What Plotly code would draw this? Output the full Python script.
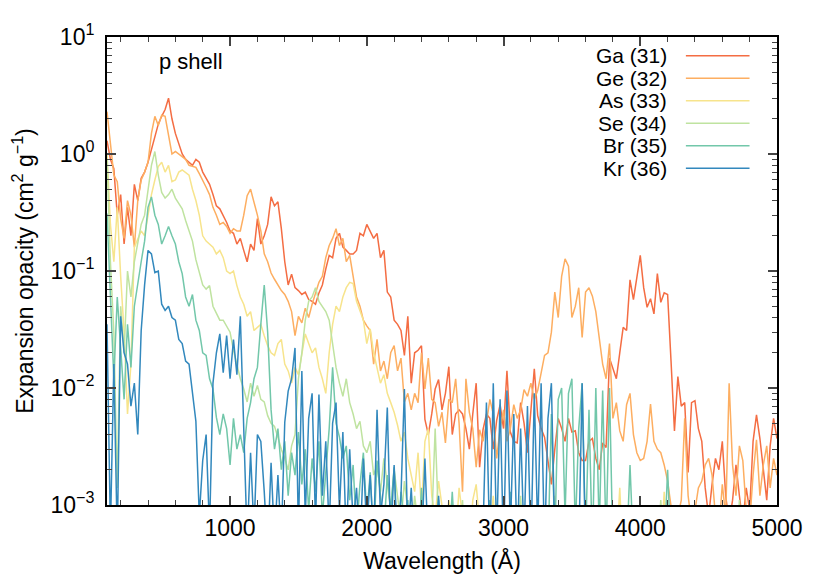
import plotly.graph_objects as go

# wavelength grid (Angstrom)
wavelength = list(range(100, 5001, 25))

# expansion opacity (cm^2 g^-1); values < 1e-3 fall below the axis
ga = [
    1.3, 0.9, 0.75, 0.3, 0.45, 0.17, 0.35, 0.2, 0.55, 0.4,  # 100
    0.62, 0.7, 0.85, 1.1, 1.4, 1.8, 2.1, 2.4, 3.0, 2.0,  # 350
    1.5, 1.25, 1.0, 0.9, 0.85, 0.8, 0.9, 0.85, 0.7, 0.62,  # 600
    0.55, 0.45, 0.36, 0.34, 0.3, 0.26, 0.22, 0.21, 0.17, 0.19,  # 850
    0.15, 0.12, 0.17, 0.15, 0.28, 0.17, 0.2, 0.25, 0.43, 0.36,  # 1100
    0.39, 0.23, 0.12, 0.076, 0.094, 0.072, 0.068, 0.063, 0.066, 0.057,  # 1350
    0.055, 0.052, 0.065, 0.076, 0.104, 0.136, 0.13, 0.19, 0.21, 0.16,  # 1600
    0.15, 0.14, 0.14, 0.15, 0.21, 0.2, 0.25, 0.22, 0.19, 0.21,  # 1850
    0.13, 0.15, 0.066, 0.06, 0.038, 0.035, 0.031, 0.019, 0.041, 0.011,  # 2100
    0.02, 0.021, 0.023, 0.0054, 0.004, 0.006, 0.0098, 0.0118, 0.0065, 0.009,  # 2350
    0.0152, 0.004, 0.006, 0.0065, 0.006, 0.0045, 0.003, 0.006, 0.011, 0.0021,  # 2600
    0.0044, 0.006, 0.0055, 0.003, 0.0053, 0.0072, 0.0045, 0.014, 0.0042, 0.0035,  # 2850
    0.0034, 0.0075, 0.005, 0.0028, 0.0065, 0.0146, 0.0058, 0.0045, 0.0038, 0.0025,  # 3100
    0.0015, 0.003, 0.0055, 0.0045, 0.0035, 0.0055, 0.0042, 0.0043, 0.0028, 0.0024,  # 3350
    0.0024, 0.0035, 0.0037, 0.0025, 0.002, 0.0034, 0.0031, 0.018, 0.0145, 0.012,  # 3600
    0.02, 0.033, 0.031, 0.084, 0.057, 0.087, 0.136, 0.072, 0.049, 0.058,  # 3850
    0.043, 0.095, 0.054, 0.065, 0.063, 0.017, 0.0043, 0.0125, 0.007, 0.0075,  # 4100
    0.0019, 0.0075, 0.0078, 0.0045, 0.0035, 0.0014, 0.0008, 0.0015, 0.0025, 0.002,  # 4350
    0.0035, 0.0012, 0.0007, 0.0011, 0.0022, 0.0012, 0.0007, 0.0014, 0.0009, 0.0035,  # 4600
    0.0059, 0.0037, 0.002, 0.0011, 0.0032, 0.0055, 0.0037,  # 4850
]
ge = [
    2.3, 1.25, 0.66, 0.58, 0.28, 0.19, 0.4, 0.3, 0.16, 0.4,
    0.6, 0.7, 0.85, 1.5, 2.1, 1.75, 2.15, 2.1, 1.5, 1.0,
    1.05, 1.0, 0.95, 0.9, 0.8, 0.78, 0.77, 0.68, 0.6, 0.52,
    0.45, 0.35, 0.3, 0.25, 0.26, 0.24, 0.21, 0.23, 0.22, 0.22,
    0.3, 0.44, 0.5, 0.39, 0.3, 0.22, 0.14, 0.12, 0.096, 0.085,
    0.075, 0.068, 0.063, 0.055, 0.045, 0.028, 0.041, 0.036, 0.048, 0.04,
    0.052, 0.065, 0.08, 0.09, 0.13, 0.165, 0.19, 0.23, 0.165, 0.19,
    0.12, 0.136, 0.093, 0.06, 0.05, 0.038, 0.034, 0.031, 0.016, 0.026,
    0.014, 0.017, 0.012, 0.02, 0.023, 0.014, 0.018, 0.0076, 0.009, 0.0065,
    0.009, 0.0075, 0.02, 0.0098, 0.018, 0.008, 0.0075, 0.0047, 0.0062, 0.0034,
    0.008, 0.0075, 0.012, 0.005, 0.0013, 0.012, 0.0062, 0.0045, 0.0021, 0.0044,
    0.0035, 0.005, 0.008, 0.006, 0.0025, 0.0045, 0.0065, 0.0035, 0.0045, 0.0072,
    0.0055, 0.0065, 0.0097, 0.0085, 0.011, 0.008, 0.0095, 0.0135, 0.019, 0.02,
    0.03, 0.066, 0.04, 0.09, 0.127, 0.11, 0.04, 0.05, 0.072, 0.027,
    0.066, 0.072, 0.061, 0.045, 0.027, 0.016, 0.012, 0.024, 0.0055, 0.0075,
    0.0043, 0.0035, 0.0072, 0.009, 0.004, 0.0028, 0.0024, 0.0025, 0.0035, 0.0073,
    0.0035, 0.003, 0.0028, 0.0022, 0.0016, 0.0009, 0.0006, 0.0008, 0.0011, 0.0055,
    0.0012, 0.0007, 0.0009, 0.0014, 0.0016, 0.0022, 0.0025, 0.0018, 0.0008, 0.0006,
    0.0015, 0.0008, 0.011, 0.0022, 0.0012, 0.0032, 0.0024, 0.0009, 0.0007, 0.0018,
    0.0036, 0.0012, 0.0022, 0.0032, 0.0014, 0.0025, 0.0018,
]
as_ = [
    1.0, 0.25, 0.12, 0.35, 0.09, 0.03, 0.006, 0.016, 0.16, 0.19,
    0.22, 0.2, 0.3, 0.45, 0.6, 0.78, 0.85, 0.7, 0.8, 0.58,
    0.6, 0.7, 0.73, 0.7, 0.66, 0.5, 0.4, 0.3, 0.2, 0.18,
    0.17, 0.16, 0.14, 0.15, 0.13, 0.1, 0.095, 0.1, 0.075, 0.06,
    0.052, 0.041, 0.045, 0.031, 0.033, 0.035, 0.028, 0.023, 0.02, 0.019,
    0.024, 0.026, 0.016, 0.014, 0.011, 0.015, 0.013, 0.02, 0.029, 0.024,
    0.02, 0.022, 0.015, 0.012, 0.009, 0.02, 0.035, 0.05, 0.045, 0.06,
    0.072, 0.08, 0.078, 0.055, 0.045, 0.038, 0.024, 0.032, 0.02, 0.015,
    0.011, 0.013, 0.009, 0.0075, 0.0062, 0.0048, 0.0035, 0.0042, 0.0025, 0.0018,
    0.0013, 0.0028, 0.0009, 0.0035, 0.0045, 0.0012, 0.0008, 0.0016, 0.0009, 0.0006,
    0.0011, 0.0007, 0.0005, 0.0014, 0.0008, 0.0006, 0.0004, 0.0011, 0.0015, 0.0007,
    0.0005, 0.0004, 0.0006, 0.0012, 0.0004, 0.0003, 0.0005, 0.0004, 0.0004, 0.0003,
    0.0004, 0.0003, 0.0004, 0.0003, 0.0004, 0.0003, 0.0004, 0.0003, 0.0004, 0.0003,
    0.0004, 0.0012, 0.0003, 0.0004, 0.0003, 0.0004, 0.0003, 0.0004, 0.0003, 0.0004,
    0.0003, 0.0004, 0.0003, 0.0004, 0.0003, 0.0004, 0.0003, 0.0004, 0.0003, 0.0004,
    0.0014, 0.0003, 0.0004, 0.0003, 0.0004, 0.0003, 0.0004, 0.0003, 0.0004, 0.0003,
    0.0004, 0.0003, 0.0004, 0.0013, 0.0003, 0.0004, 0.0003, 0.0004, 0.0003, 0.0004,
    0.0003, 0.0004, 0.0003, 0.0004, 0.0003, 0.0004, 0.0003, 0.0004, 0.0003, 0.0004,
    0.0003, 0.0004, 0.0003, 0.0004, 0.0003, 0.0004, 0.0003, 0.0004, 0.0003, 0.0004,
    0.0003, 0.0004, 0.0003, 0.0004, 0.0003, 0.0004, 0.0003,
]
se = [
    0.9, 0.12, 0.03, 0.0014, 0.05, 0.02, 0.1, 0.06, 0.12, 0.18,
    0.25, 0.3, 0.5, 0.8, 1.05, 0.66, 0.47, 0.42, 0.45, 0.5,
    0.42, 0.38, 0.34, 0.27, 0.22, 0.18, 0.125, 0.095, 0.076, 0.07,
    0.075, 0.05, 0.043, 0.038, 0.038, 0.034, 0.03, 0.021, 0.016, 0.012,
    0.0098, 0.0076, 0.011, 0.0085, 0.0105, 0.008, 0.0076, 0.0058, 0.005, 0.0047,
    0.0038, 0.003, 0.0025, 0.002, 0.0032, 0.004, 0.012, 0.02, 0.038, 0.055,
    0.06, 0.072, 0.055, 0.05, 0.045, 0.038, 0.023, 0.015, 0.011, 0.0085,
    0.012, 0.0075, 0.006, 0.0045, 0.0052, 0.0032, 0.0028, 0.0035, 0.0018, 0.0022,
    0.0013, 0.0025, 0.0015, 0.0009, 0.002, 0.0011, 0.0007, 0.0016, 0.0008, 0.0005,
    0.0012, 0.0006, 0.0004, 0.0009, 0.0005, 0.0007, 0.0045, 0.0007, 0.0004, 0.0003,
    0.0004, 0.0003, 0.0004, 0.0003, 0.0011, 0.0003, 0.0004, 0.0003, 0.0004, 0.0003,
    0.0004, 0.0003, 0.0004, 0.0003, 0.0004, 0.0003, 0.0004, 0.0003, 0.0004, 0.0003,
    0.0004, 0.0012, 0.0003, 0.0004, 0.0003, 0.0004, 0.0003, 0.0004, 0.0003, 0.0004,
    0.0003, 0.0004, 0.0003, 0.0004, 0.0003, 0.0004, 0.0003, 0.0004, 0.0003, 0.0004,
    0.0003, 0.0004, 0.0003, 0.0004, 0.0003, 0.0004, 0.0003, 0.0004, 0.0003, 0.0004,
    0.0003, 0.0004, 0.0003, 0.0004, 0.0003, 0.0004, 0.0003, 0.0004, 0.0003, 0.0004,
    0.0003, 0.0004, 0.0011, 0.0004, 0.0003, 0.0004, 0.0003, 0.0004, 0.0003, 0.0004,
    0.0003, 0.0004, 0.0003, 0.0004, 0.0003, 0.0004, 0.0003, 0.0004, 0.0003, 0.0004,
    0.0003, 0.0004, 0.0003, 0.0004, 0.0003, 0.0011, 0.0003, 0.0004, 0.0003, 0.0004,
    0.0003, 0.0004, 0.0003, 0.0004, 0.0003, 0.0004, 0.0003,
]
br = [
    0.31, 0.05, 0.012, 0.06, 0.02, 0.008, 0.035, 0.015, 0.05, 0.08,
    0.12, 0.18, 0.35, 0.43, 0.3, 0.25, 0.17, 0.2, 0.24, 0.2,
    0.17, 0.12, 0.095, 0.06, 0.05, 0.063, 0.038, 0.031, 0.02, 0.019,
    0.012, 0.0098, 0.0056, 0.004, 0.006, 0.0045, 0.0022, 0.0055, 0.003, 0.004,
    0.0028, 0.0055, 0.0075, 0.012, 0.015, 0.035, 0.076, 0.03, 0.0065, 0.003,
    0.0045, 0.002, 0.0035, 0.0012, 0.0028, 0.0018, 0.0042, 0.0015, 0.003, 0.0009,
    0.0025, 0.0013, 0.0035, 0.0008, 0.002, 0.0045, 0.015, 0.005, 0.0038, 0.0025,
    0.0032, 0.0011, 0.0022, 0.0006, 0.0015, 0.0028, 0.0008, 0.0019, 0.0005, 0.0024,
    0.0012, 0.0006, 0.0018, 0.0009, 0.0021, 0.0004, 0.0013, 0.0007, 0.0011, 0.0004,
    0.0009, 0.0004, 0.0014, 0.0004, 0.0008, 0.0004, 0.0004, 0.0011, 0.0004, 0.0004,
    0.0004, 0.0013, 0.0004, 0.0004, 0.0004, 0.0009, 0.0004, 0.0004, 0.0004, 0.0004,
    0.0004, 0.0004, 0.0011, 0.0004, 0.0004, 0.0004, 0.0004, 0.0004, 0.0013, 0.0004,
    0.0004, 0.0004, 0.0004, 0.0004, 0.0004, 0.0004, 0.0004, 0.0004, 0.0004, 0.0004,
    0.006, 0.0005, 0.008, 0.01, 0.0008, 0.009, 0.012, 0.0006, 0.0045, 0.011,
    0.0005, 0.0065, 0.0004, 0.01, 0.0006, 0.0095, 0.0005, 0.01, 0.0004, 0.0004,
    0.0004, 0.0004, 0.0004, 0.0022, 0.0004, 0.0004, 0.0004, 0.0004, 0.0004, 0.0004,
    0.0004, 0.0004, 0.0004, 0.0004, 0.002, 0.0004, 0.0004, 0.0004, 0.0004, 0.0004,
    0.0004, 0.0004, 0.0004, 0.0004, 0.0004, 0.0004, 0.0004, 0.0004, 0.0004, 0.0004,
    0.0004, 0.0004, 0.0004, 0.0004, 0.0004, 0.0004, 0.0004, 0.0004, 0.0004, 0.0004,
    0.0004, 0.0004, 0.0004, 0.0004, 0.0004, 0.0004, 0.0004,
]
kr = [
    0.035, 0.0006, 0.016, 0.0005, 0.041, 0.02, 0.016, 0.007, 0.011, 0.004,
    0.031, 0.076, 0.15, 0.14, 0.097, 0.1, 0.052, 0.046, 0.05, 0.04,
    0.038, 0.026, 0.024, 0.017, 0.016, 0.0094, 0.0052, 0.0008, 0.0024, 0.004,
    0.0006, 0.011, 0.02, 0.029, 0.0135, 0.028, 0.012, 0.026, 0.013, 0.041,
    0.004, 0.0005, 0.0028, 0.0006, 0.004, 0.0035, 0.0013, 0.0004, 0.0023, 0.0005,
    0.0018, 0.0005, 0.0051, 0.0094, 0.012, 0.022, 0.0006, 0.014, 0.0008, 0.0055,
    0.009, 0.0007, 0.0088, 0.0012, 0.0035, 0.0006, 0.005, 0.0075, 0.0009, 0.0042,
    0.0005, 0.003, 0.0007, 0.0014, 0.0004, 0.0025, 0.0006, 0.0018, 0.0005, 0.0065,
    0.0008, 0.0015, 0.0068, 0.0005, 0.0022, 0.0004, 0.0012, 0.0098, 0.0005, 0.0014,
    0.0004, 0.0008, 0.0004, 0.0025, 0.0004, 0.0004, 0.0004, 0.0012, 0.0004, 0.0004,
    0.0004, 0.0004, 0.0004, 0.0009, 0.0004, 0.0004, 0.0004, 0.0004, 0.0004, 0.0004,
    0.0006, 0.0075, 0.0004, 0.011, 0.0005, 0.008, 0.0004, 0.0095, 0.0006, 0.006,
    0.0004, 0.0045, 0.0005, 0.007, 0.0004, 0.009, 0.0006, 0.011, 0.0004, 0.0055,
    0.011, 0.0005, 0.0004, 0.0004, 0.0004, 0.0004, 0.0004, 0.0004, 0.0004, 0.011,
    0.0004, 0.0004, 0.0004, 0.0004, 0.0004, 0.0004, 0.0004, 0.0004, 0.0004, 0.0004,
    0.0004, 0.0004, 0.0004, 0.0004, 0.0004, 0.0004, 0.0004, 0.0004, 0.0004, 0.0004,
    0.0004, 0.0004, 0.0004, 0.0004, 0.0004, 0.0004, 0.0004, 0.0004, 0.0004, 0.0004,
    0.0004, 0.0004, 0.0004, 0.0004, 0.0004, 0.0004, 0.0004, 0.0004, 0.0004, 0.0004,
    0.0004, 0.0004, 0.0004, 0.0004, 0.0004, 0.0004, 0.0004, 0.0004, 0.0004, 0.0004,
    0.0004, 0.0004, 0.0004, 0.0004, 0.0004, 0.0004, 0.0004,
]

series_names = ["Ga (31)", "Ge (32)", "As (33)", "Se (34)", "Br (35)", "Kr (36)"]
series_colors = ["#f46d43", "#fdae61", "#f7e48c", "#bfe3a0", "#72c7aa", "#3288bd"]
series_values = [ga, ge, as_, se, br, kr]

x_ticks = [1000, 2000, 3000, 4000, 5000]
y_ticks = [1e-3, 1e-2, 1e-1, 1, 10]
y_tick_labels = ["10<sup>−3</sup>", "10<sup>−2</sup>", "10<sup>−1</sup>", "10<sup>0</sup>", "10<sup>1</sup>"]
y_minor = [k * 10.0 ** e for e in range(-3, 1) for k in range(2, 10)]

font = dict(family="Liberation Sans, Arial, sans-serif", size=23, color="black")
legend_font = dict(family="Liberation Sans, Arial, sans-serif", size=21, color="black")

fig = go.Figure()
for name, color, values in zip(series_names, series_colors, series_values):
    assert len(values) == len(wavelength), name
    fig.add_trace(go.Scatter(x=wavelength, y=values, mode="lines", name=name,
                             line=dict(color=color, width=1.5), showlegend=False))

# legend drawn by hand: label on the left, line sample on the right
for i, (name, color) in enumerate(zip(series_names, series_colors)):
    y = 0.960 - i * 0.0481
    fig.add_annotation(x=0.839, y=y, xref="paper", yref="paper", text=name, showarrow=False,
                       xanchor="right", yanchor="middle", font=legend_font)
    fig.add_shape(type="line", xref="paper", yref="paper", x0=0.864, x1=0.959, y0=y, y1=y,
                  line=dict(color=color, width=1.5))

fig.add_annotation(x=0.125, y=0.948, xref="paper", yref="paper", text="p shell", showarrow=False,
                   xanchor="center", yanchor="middle",
                   font=dict(family="Liberation Sans, Arial, sans-serif", size=22, color="black"))

fig.update_xaxes(range=[100, 5000], tickvals=x_ticks, ticks="inside", ticklen=9, tickwidth=1.5,
                 showline=True, linewidth=2, linecolor="black", mirror="ticks", showgrid=False,
                 zeroline=False, ticklabelstandoff=1,
                 minor=dict(ticks="inside", ticklen=5, tickwidth=1.2, dtick=200, tick0=0, showgrid=False),
                 title=dict(text="Wavelength (Å)", font=font, standoff=13))
fig.update_yaxes(type="log", range=[-3, 1], tickvals=y_ticks, ticktext=y_tick_labels, ticks="inside",
                 ticklen=9, tickwidth=1.5, showline=True, linewidth=2, linecolor="black", mirror="ticks",
                 showgrid=False, zeroline=False, ticklabelstandoff=6,
                 minor=dict(ticks="inside", ticklen=5, tickwidth=1.2, tickvals=y_minor, showgrid=False),
                 title=dict(text="Expansion opacity (cm<sup>2</sup> g<sup>−1</sup>)", font=font, standoff=14))
# the page body adds an 8 px offset, so the margins are shifted to put the frame at 100..777 x 27..505
fig.update_layout(width=830, height=580, margin=dict(l=92, r=61, t=19, b=83),
                  paper_bgcolor="white", plot_bgcolor="white", font=font)

fig.write_html("out.html")
